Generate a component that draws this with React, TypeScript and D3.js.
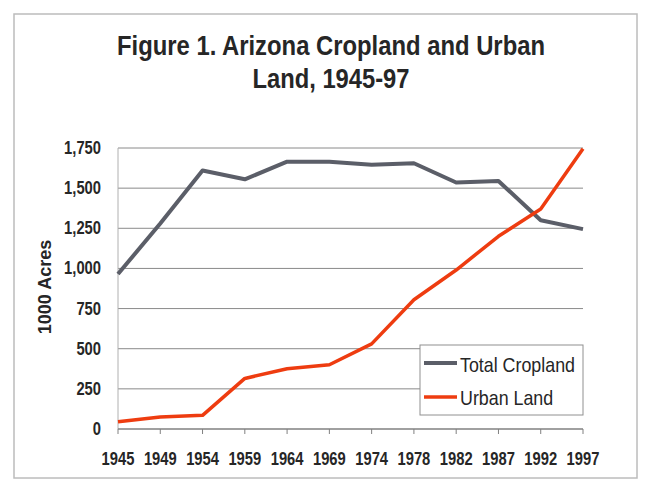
import React from "react";
import * as d3 from "d3";

const years = ["1945","1949","1954","1959","1964","1969","1974","1978","1982","1987","1992","1997"];
const cropland = [965, 1280, 1610, 1555, 1665, 1665, 1645, 1655, 1535, 1545, 1300, 1245];
const urban = [45, 75, 85, 315, 375, 400, 530, 805, 990, 1200, 1370, 1745];
const yTicks = [0, 250, 500, 750, 1000, 1250, 1500, 1750];
const seriesNames = ["Total Cropland", "Urban Land"];
const seriesColors = ["#5b5e68", "#ee3c10"];
const titleLines = ["Figure 1. Arizona Cropland and Urban", "Land, 1945-97"];

const sans = "'Liberation Sans', Arial, sans-serif";

export default function App() {
  const W = 645, H = 485;
  const x = d3.scalePoint<string>().domain(years).range([118, 583]);
  const y = d3.scaleLinear().domain([0, 1750]).range([429, 148]);
  const line = d3.line<number>().x((_, i) => x(years[i])!).y(d => y(d));
  const fmt = d3.format(",");
  const NX = 0.82;
  return (
    <svg width={W} height={H} style={{ position: "absolute", left: 0, top: 0, background: "#fff" }}>
      <rect x={14} y={14} width={623} height={464} fill="#fff" stroke="#bcbcbc" strokeWidth={1.5} />
      <text x={331} y={55} textAnchor="middle" fontFamily={sans} fontWeight="bold" fontSize={28} fill="#262626"
        textLength={428} lengthAdjust="spacingAndGlyphs">{titleLines[0]}</text>
      <text x={331} y={88} textAnchor="middle" fontFamily={sans} fontWeight="bold" fontSize={28} fill="#262626"
        textLength={157} lengthAdjust="spacingAndGlyphs">{titleLines[1]}</text>
      {yTicks.map(t => (
        <g key={t}>
          {t > 0 && <line x1={118} x2={583} y1={y(t)} y2={y(t)} stroke="#8a8a8a" strokeWidth={1} />}
          <text transform={`translate(101,${y(t) + 6}) scale(${NX},1)`} textAnchor="end" fontFamily={sans} fontWeight="bold" fontSize={18} fill="#262626">{fmt(t)}</text>
        </g>
      ))}
      <line x1={118} x2={118} y1={148} y2={429} stroke="#b0b0b0" strokeWidth={1} />
      <line x1={118} x2={583} y1={429} y2={429} stroke="#808080" strokeWidth={1.5} />
      {years.map(yr => (
        <g key={yr}>
          <line x1={x(yr)} x2={x(yr)} y1={429} y2={434} stroke="#808080" strokeWidth={1} />
          <text transform={`translate(${x(yr)},465) scale(${NX},1)`} textAnchor="middle" fontFamily={sans} fontWeight="bold" fontSize={18} fill="#262626">{yr}</text>
        </g>
      ))}
      <text transform={`translate(51,287) rotate(-90)`} textAnchor="middle" fontFamily={sans} fontWeight="bold" fontSize={18} fill="#262626">1000 Acres</text>
      <path d={line(cropland)!} fill="none" stroke={seriesColors[0]} strokeWidth={4} strokeLinejoin="round" />
      <path d={line(urban)!} fill="none" stroke={seriesColors[1]} strokeWidth={3.5} strokeLinejoin="round" />
      <rect x={420} y={345} width={163} height={70} fill="#fff" stroke="#909090" strokeWidth={1} />
      {seriesNames.map((n, i) => (
        <g key={n}>
          <line x1={424} x2={457} y1={363 + i * 34} y2={363 + i * 34} stroke={seriesColors[i]} strokeWidth={i === 0 ? 4 : 3.5} />
          <text transform={`translate(460,${372 + i * 33}) scale(0.85,1)`} fontFamily={sans} fontSize={21} fill="#262626">{n}</text>
        </g>
      ))}
    </svg>
  );
}
